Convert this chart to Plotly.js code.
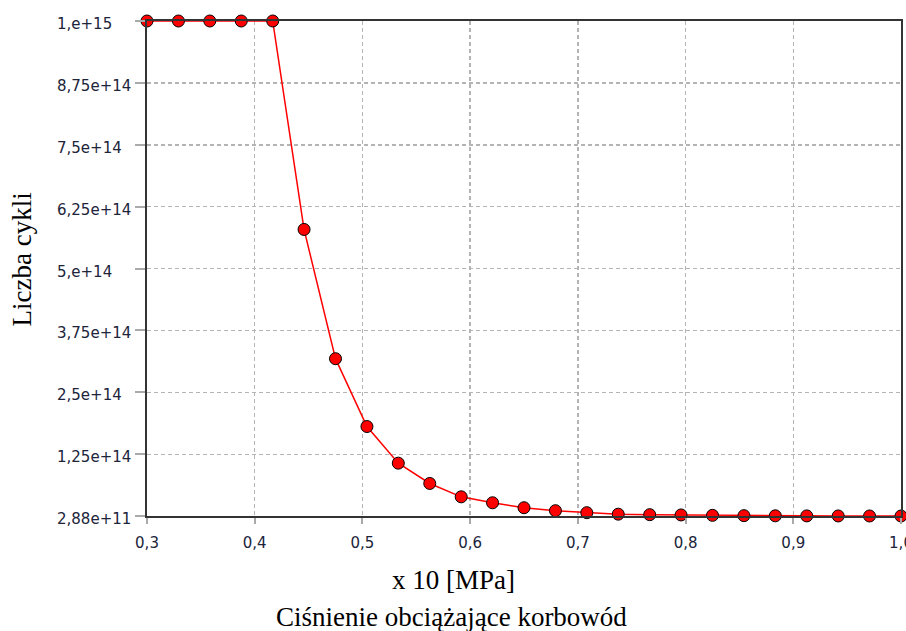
<!DOCTYPE html>
<html>
<head>
<meta charset="utf-8">
<script src="https://cdn.plot.ly/plotly-3.0.1.min.js"></script>
<style>html,body{margin:0;padding:0;background:#fff;}#chart{width:906px;height:631px;}</style>
</head>
<body>
<div id="chart"></div>
<script>
const pressure = [0.3, 0.3292, 0.3583, 0.3875, 0.4167, 0.4458, 0.475, 0.5042, 0.5333, 0.5625,
  0.5917, 0.6208, 0.65, 0.6792, 0.7083, 0.7375, 0.7667, 0.7958, 0.825, 0.8542,
  0.8833, 0.9125, 0.9417, 0.9708, 1.0];
const cycles = [1e15, 1e15, 1e15, 1e15, 1e15, 5.79e14, 3.18e14, 1.81e14, 1.07e14, 6.6e13,
  3.9e13, 2.7e13, 1.7e13, 1.1e13, 7e12, 4e12, 3e12, 2.4e12, 1.6e12, 1.0e12,
  7e11, 5e11, 4e11, 3.3e11, 2.9e11];
const xTickVals = [0.3, 0.4, 0.5, 0.6, 0.7, 0.8, 0.9, 1.0];
const xTickText = ["0,3", "0,4", "0,5", "0,6", "0,7", "0,8", "0,9", "1,0"];
const yTickVals = [2.88e11, 1.25e14, 2.5e14, 3.75e14, 5e14, 6.25e14, 7.5e14, 8.75e14, 1e15];
const yTickText = ["2,88e+11", "1,25e+14", "2,5e+14", "3,75e+14", "5,e+14", "6,25e+14", "7,5e+14", "8,75e+14", "1,e+15"];
const xTitle = "x 10 [MPa]";
const xSubTitle = "Ciśnienie obciążające korbowód";
const yTitle = "Liczba cykli";

const tickFont = {family: "DejaVu Sans", size: 15, color: "#20243a"};
const titleFont = {family: "Liberation Serif", size: 27, color: "#000"};

const trace = {
  x: pressure, y: cycles, type: "scatter", mode: "lines+markers",
  line: {color: "#ff0000", width: 1.5},
  marker: {symbol: "circle", size: 12, color: "#ff0000", line: {color: "#000", width: 1}},
  cliponaxis: false, hoverinfo: "none"
};

const annotations = yTickVals.map((v, i) => ({
  xref: "paper", yref: "y", x: 0, y: v, xshift: -92, yshift: -3,
  xanchor: "left", yanchor: "middle", text: yTickText[i], showarrow: false, font: tickFont
}));
annotations.push({xref: "paper", yref: "paper", x: 0, y: 0.5, xshift: -126, yshift: 9, text: yTitle, textangle: -90,
  showarrow: false, xanchor: "center", yanchor: "middle", font: titleFont});
annotations.push({xref: "paper", yref: "paper", x: 0.5, y: 0, xshift: -71, yshift: -64, text: xTitle,
  showarrow: false, xanchor: "center", yanchor: "middle", font: titleFont});
annotations.push({xref: "paper", yref: "paper", x: 0.5, y: 0, xshift: -73, yshift: -101, text: xSubTitle,
  showarrow: false, xanchor: "center", yanchor: "middle", font: titleFont});

const layout = {
  width: 906, height: 631,
  margin: {l: 147, r: 5, t: 21, b: 115, pad: 0},
  paper_bgcolor: "#fff", plot_bgcolor: "#fff",
  showlegend: false,
  xaxis: {
    range: [0.3, 1.0], tickvals: xTickVals, ticktext: xTickText, tickfont: tickFont,
    ticks: "outside", ticklen: 6, tickwidth: 2, tickcolor: "#aaaaaa",
    showgrid: true, gridcolor: "#b4b4b4", gridwidth: 1.5, griddash: "4px,3px",
    showline: true, linecolor: "#333", linewidth: 2, mirror: true, zeroline: false,
    ticklabelstandoff: 6, ticklabeloverflow: "allow", fixedrange: true
  },
  yaxis: {
    range: [2.88e11, 1e15], tickvals: yTickVals, showticklabels: false,
    ticks: "outside", ticklen: 10, tickwidth: 2, tickcolor: "#aaaaaa",
    showgrid: true, gridcolor: "#b4b4b4", gridwidth: 1.5, griddash: "4px,3px",
    showline: true, linecolor: "#333", linewidth: 2, mirror: true, zeroline: false,
    fixedrange: true
  },
  annotations: annotations
};

Plotly.newPlot("chart", [trace], layout, {displayModeBar: false, staticPlot: true});
</script>
</body>
</html>
